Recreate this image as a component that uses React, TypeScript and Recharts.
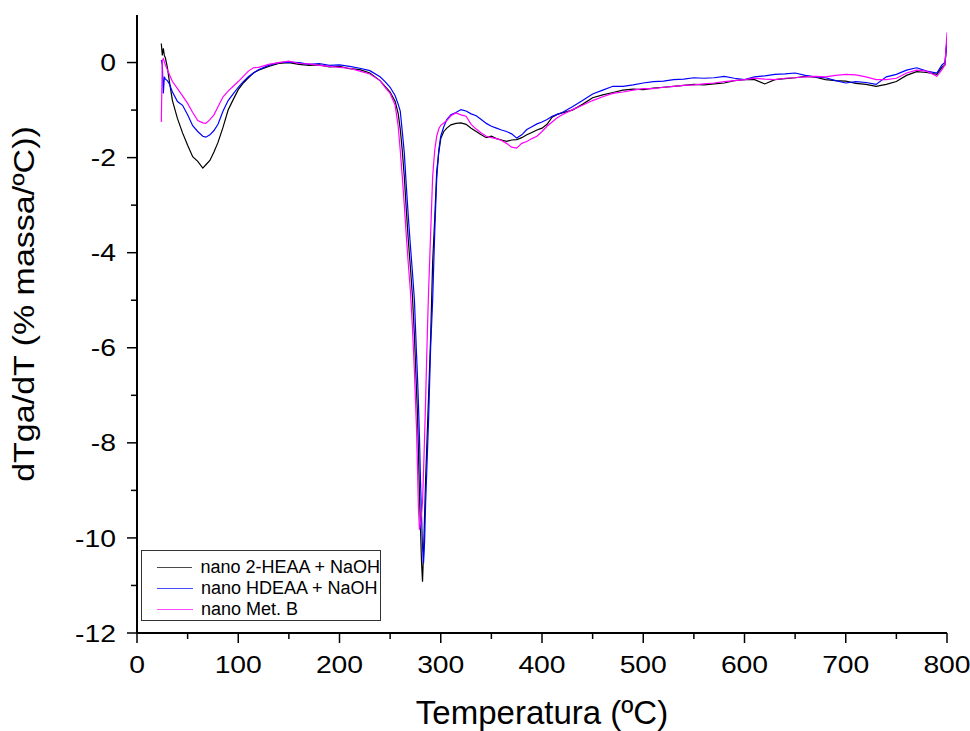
import { LineChart, Line, XAxis, YAxis, Legend } from 'recharts'

const FONT = "'Liberation Sans', Arial, sans-serif"

// temperature grid (ºC), denser around the main peak
const temps = [
  24, 25, 26, 27, 28, 30, 32, 35, 40, 45,
  50, 55, 60, 65, 68, 72, 76, 80, 85, 90,
  95, 100, 105, 110, 115, 120, 130, 140, 150, 160,
  170, 180, 190, 200, 210, 220, 230, 240, 245, 250,
  255, 258, 260, 262, 264, 266, 268, 270, 272, 274,
  276, 277, 278, 279, 280, 281, 282, 283, 284, 285,
  286, 287, 288, 290, 292, 294, 296, 298, 300, 303,
  306, 310, 315, 320, 325, 330, 335, 340, 345, 350,
  355, 360, 365, 370, 375, 380, 385, 390, 395, 400,
  405, 410, 415, 420, 430, 440, 450, 460, 470, 480,
  490, 500, 510, 520, 530, 540, 550, 560, 570, 580,
  590, 600, 610, 620, 630, 640, 650, 660, 670, 680,
  690, 700, 710, 720, 730, 740, 750, 760, 770, 780,
  790, 795, 798, 800,
]

// nano 2-HEAA + NaOH
const heaa = [
  0.40, 0.15, 0.30, 0.15, 0.10, -0.10, -0.40, -0.80, -1.18, -1.48,
  -1.74, -1.98, -2.08, -2.22, -2.15, -2.06, -1.88, -1.68, -1.36, -1.00,
  -0.78, -0.57, -0.43, -0.32, -0.22, -0.16, -0.08, -0.02, 0.00, -0.04,
  -0.06, -0.05, -0.09, -0.08, -0.13, -0.15, -0.22, -0.38, -0.50, -0.62,
  -0.82, -1.08, -1.40, -1.85, -2.40, -3.10, -3.75, -4.30, -4.90, -5.75,
  -6.85, -7.40, -8.20, -9.10, -9.80, -10.50, -10.92, -10.30, -9.55, -8.80,
  -8.20, -7.60, -7.00, -5.80, -4.20, -3.30, -2.30, -1.90, -1.60, -1.45,
  -1.38, -1.31, -1.28, -1.27, -1.30, -1.38, -1.45, -1.52, -1.58, -1.55,
  -1.60, -1.63, -1.66, -1.63, -1.62, -1.58, -1.52, -1.47, -1.42, -1.38,
  -1.30, -1.15, -1.09, -1.06, -1.00, -0.88, -0.74, -0.68, -0.63, -0.58,
  -0.56, -0.57, -0.54, -0.52, -0.50, -0.48, -0.46, -0.47, -0.45, -0.43,
  -0.38, -0.36, -0.36, -0.45, -0.36, -0.34, -0.32, -0.29, -0.31, -0.36,
  -0.38, -0.39, -0.44, -0.46, -0.50, -0.46, -0.40, -0.27, -0.19, -0.21,
  -0.25, -0.10, -0.05, 0.50,
]

// nano HDEAA + NaOH
const hdeaa = [
  0.05, -0.05, -0.65, -0.30, -0.35, -0.38, -0.45, -0.62, -0.82, -0.90,
  -1.10, -1.33, -1.45, -1.55, -1.57, -1.52, -1.43, -1.30, -1.02, -0.80,
  -0.66, -0.52, -0.40, -0.30, -0.22, -0.15, -0.06, 0.00, 0.01, 0.00,
  -0.04, -0.02, -0.06, -0.05, -0.08, -0.12, -0.17, -0.30, -0.40, -0.52,
  -0.70, -0.88, -1.02, -1.45, -1.90, -2.60, -3.25, -3.85, -4.40, -5.00,
  -6.10, -6.60, -7.20, -7.90, -8.80, -9.50, -10.20, -10.53, -10.10, -9.30,
  -8.70, -8.10, -7.50, -6.00, -5.00, -3.60, -2.45, -1.85, -1.55, -1.35,
  -1.20, -1.10, -1.05, -0.99, -1.02, -1.08, -1.12, -1.20, -1.28, -1.34,
  -1.38, -1.42, -1.45, -1.50, -1.59, -1.52, -1.41, -1.35, -1.29, -1.25,
  -1.20, -1.13, -1.09, -1.05, -0.93, -0.80, -0.66, -0.58, -0.50, -0.50,
  -0.47, -0.43, -0.40, -0.39, -0.36, -0.35, -0.32, -0.33, -0.32, -0.29,
  -0.33, -0.36, -0.30, -0.28, -0.25, -0.24, -0.22, -0.27, -0.30, -0.32,
  -0.38, -0.43, -0.40, -0.42, -0.46, -0.30, -0.25, -0.16, -0.11, -0.18,
  -0.22, -0.05, 0.00, 0.45,
]

// nano Met. B
const metB = [
  -1.25, 0.05, 0.08, 0.02, -0.05, -0.15, -0.25, -0.40, -0.55, -0.70,
  -0.86, -1.05, -1.22, -1.27, -1.28, -1.20, -1.10, -0.93, -0.72, -0.60,
  -0.50, -0.40, -0.29, -0.18, -0.11, -0.10, -0.04, 0.00, 0.03, -0.02,
  -0.03, -0.06, -0.08, -0.10, -0.12, -0.18, -0.24, -0.38, -0.52, -0.65,
  -0.90, -1.35, -1.85, -2.40, -3.00, -3.65, -4.25, -4.80, -5.55, -6.50,
  -7.65, -8.50, -9.40, -9.83, -9.70, -9.50, -9.25, -8.60, -7.90, -7.15,
  -6.30, -5.50, -4.80, -3.60, -2.40, -1.85, -1.55, -1.40, -1.32, -1.27,
  -1.22, -1.12, -1.06, -1.10, -1.13, -1.30, -1.40, -1.48, -1.55, -1.58,
  -1.60, -1.64, -1.70, -1.78, -1.80, -1.70, -1.66, -1.60, -1.55, -1.45,
  -1.34, -1.25, -1.16, -1.10, -0.99, -0.90, -0.80, -0.72, -0.65, -0.62,
  -0.58, -0.55, -0.55, -0.52, -0.50, -0.48, -0.47, -0.45, -0.43, -0.40,
  -0.38, -0.36, -0.33, -0.35, -0.36, -0.33, -0.32, -0.30, -0.29, -0.30,
  -0.27, -0.25, -0.26, -0.30, -0.36, -0.36, -0.33, -0.22, -0.16, -0.18,
  -0.29, -0.15, -0.05, 0.63,
]

const xTicks = [0, 50, 100, 150, 200, 250, 300, 350, 400, 450, 500, 550, 600, 650, 700, 750, 800]
const yTicks = [-12, -11, -10, -9, -8, -7, -6, -5, -4, -3, -2, -1, 0]

const SERIES = [
  { key: 'heaa', name: 'nano 2-HEAA + NaOH', color: '#000000' },
  { key: 'hdeaa', name: 'nano HDEAA + NaOH', color: '#0000ff' },
  { key: 'metB', name: 'nano Met. B', color: '#ff00ff' },
]

const data = temps.map((t, i) => ({ t, heaa: heaa[i], hdeaa: hdeaa[i], metB: metB[i] }))

const AXIS_LINE = { stroke: '#000', strokeWidth: 2 }

function XTick({ x, y, payload }: any) {
  const major = payload.value % 100 === 0
  return (
    <g>
      <line x1={x} x2={x} y1={y} y2={y + (major ? 10 : 6)} stroke="#000" strokeWidth={1.5} />
      {major && (
        <text
          transform={`translate(${x},${y + 40}) scale(1.18,1)`}
          textAnchor="middle"
          fontSize={24}
          fontFamily={FONT}
          fill="#000"
        >
          {payload.value}
        </text>
      )}
    </g>
  )
}

function YTick({ x, y, payload }: any) {
  const major = payload.value % 2 === 0
  return (
    <g>
      <line x1={x} x2={x - (major ? 10 : 6)} y1={y} y2={y} stroke="#000" strokeWidth={1.5} />
      {major && (
        <text
          transform={`translate(${x - 21},${y}) scale(1.18,1)`}
          dy="0.36em"
          textAnchor="end"
          fontSize={24}
          fontFamily={FONT}
          fill="#000"
        >
          {payload.value}
        </text>
      )}
    </g>
  )
}

function LegendBox() {
  return (
    <div
      style={{
        width: 240,
        height: 71,
        boxSizing: 'border-box',
        border: '1px solid #333',
        background: '#fff',
        padding: '6px 0 0 15px',
        fontFamily: FONT,
        fontSize: 18,
        color: '#000',
        whiteSpace: 'nowrap',
      }}
    >
      {SERIES.map((s) => (
        <div key={s.key} style={{ display: 'flex', alignItems: 'center', height: 21 }}>
          <span style={{ display: 'inline-block', width: 36, borderTop: `1px solid ${s.color}`, opacity: 0.7, marginRight: 8 }} />
          {s.name}
        </div>
      ))}
    </div>
  )
}

export default function App() {
  return (
    <div style={{ position: 'absolute', left: 0, top: 0, width: 970, height: 731, background: '#fff' }}>
      <LineChart width={970} height={731} data={data} margin={{ top: 15, right: 23, bottom: 58, left: 57 }}>
        <XAxis
          dataKey="t"
          type="number"
          domain={[0, 800]}
          ticks={xTicks}
          interval={0}
          allowDataOverflow
          height={40}
          tickSize={0}
          tickMargin={0}
          tickLine={false}
          tick={<XTick />}
          axisLine={AXIS_LINE}
        />
        <XAxis
          xAxisId="top"
          orientation="top"
          dataKey="t"
          type="number"
          domain={[0, 800]}
          height={0}
          tick={false}
          tickLine={false}
          axisLine={AXIS_LINE}
        />
        <YAxis
          type="number"
          domain={[-12, 1]}
          ticks={yTicks}
          interval={0}
          allowDataOverflow
          width={80}
          tickSize={0}
          tickMargin={0}
          tickLine={false}
          tick={<YTick />}
          axisLine={AXIS_LINE}
        />
        <YAxis
          yAxisId="right"
          orientation="right"
          type="number"
          domain={[-12, 1]}
          width={0}
          tick={false}
          tickLine={false}
          axisLine={AXIS_LINE}
        />
        <Legend
          layout="vertical"
          align="center"
          verticalAlign="middle"
          wrapperStyle={{ left: 141, top: 550, width: 240 }}
          content={<LegendBox />}
        />
        {SERIES.map((s) => (
          <Line
            key={s.key}
            type="linear"
            dataKey={s.key}
            name={s.name}
            stroke={s.color}
            strokeWidth={1.2}
            dot={false}
            activeDot={false}
            isAnimationActive={false}
          />
        ))}
      </LineChart>
      <svg width={970} height={731} style={{ position: 'absolute', left: 0, top: 0, pointerEvents: 'none' }}>
        <text x={542} y={724} textAnchor="middle" fontSize={33} fontFamily={FONT} fill="#000">
          Temperatura (ºC)
        </text>
        <text
          transform="translate(34, 304) rotate(-90) scale(1, 0.85)"
          textAnchor="middle"
          fontSize={34}
          fontFamily={FONT}
          fill="#000"
        >
          dTga/dT (% massa/ºC))
        </text>
      </svg>
    </div>
  )
}
